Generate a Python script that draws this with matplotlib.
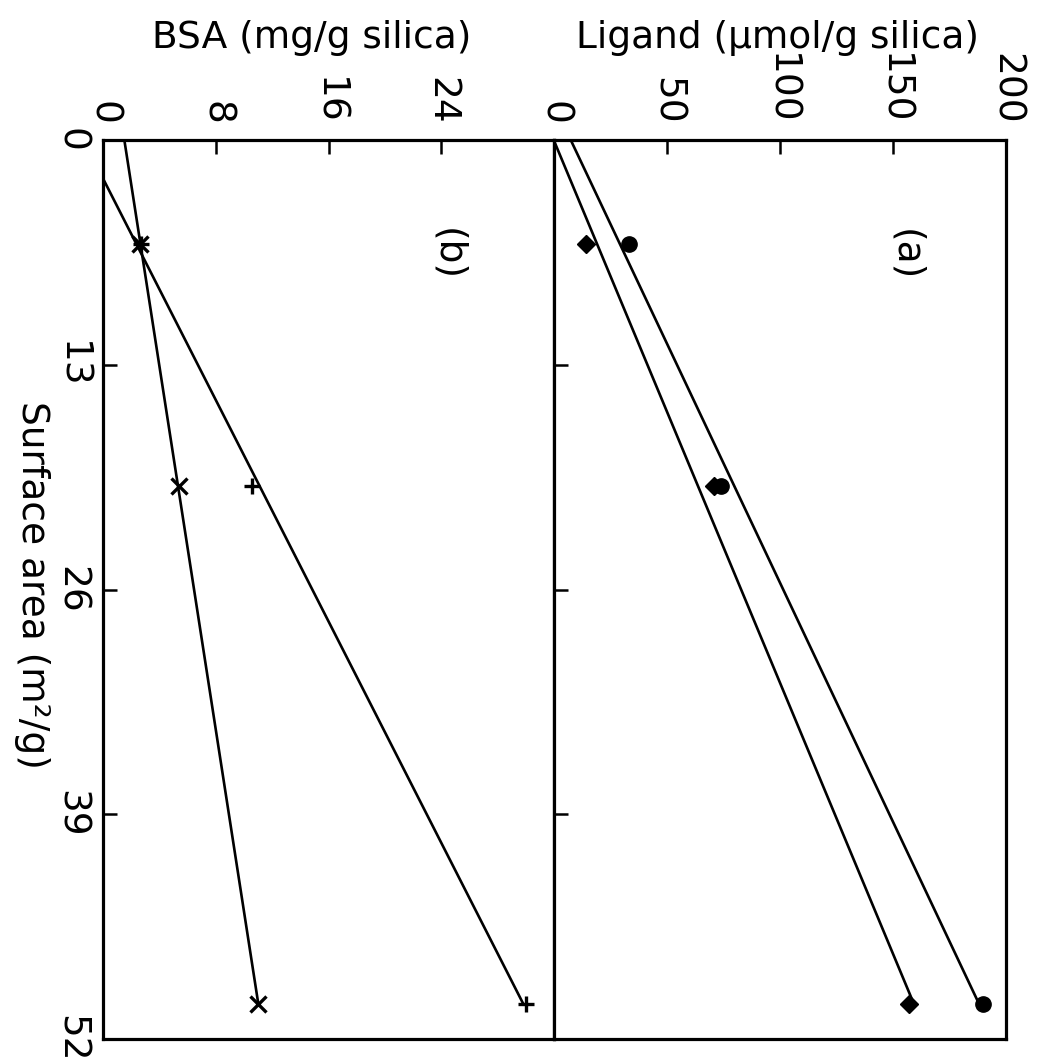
import numpy as np
import matplotlib
matplotlib.use("Agg")
import matplotlib.pyplot as plt

# Surface area of the silica samples (m^2/g)
surface_area = [6, 20, 50]

# (a) ligand loading (umol/g silica)
ligand_circle = [33, 74, 190]
ligand_diamond = [14, 71, 157]

# (b) BSA adsorbed (mg/g silica)
bsa_cross = [2.6, 5.4, 11.0]
bsa_plus = [2.7, 10.6, 30.0]

surface_ticks = [0, 13, 26, 39, 52]
ligand_ticks = [0, 50, 100, 150, 200]
bsa_ticks = [0, 8, 16, 24]

W, H = 1038, 1064
FS = 27
plt.rcParams["font.family"] = ["DejaVu Sans"]

fig = plt.figure(figsize=(W / 100, H / 100), dpi=100)

x_left, x_mid, x_right = 103, 554, 1006
y_top, y_bottom = 140, 1039


def rect(x0, x1):
    return [x0 / W, 1 - y_bottom / H, (x1 - x0) / W, (y_bottom - y_top) / H]


ax_b = fig.add_axes(rect(x_left, x_mid))
ax_a = fig.add_axes(rect(x_mid, x_right))

for ax in (ax_b, ax_a):
    ax.set_ylim(52, 0)
    for sp in ax.spines.values():
        sp.set_linewidth(2.3)
    ax.set_yticks(surface_ticks)
    ax.tick_params(axis="x", direction="in", length=10, width=1.8,
                   top=True, bottom=False, labeltop=True, labelbottom=False,
                   pad=11, labelsize=FS, labelrotation=-90)
    ax.tick_params(axis="y", direction="in", length=10, width=1.8,
                   left=True, right=False, pad=10, labelsize=FS,
                   labelrotation=-90)

ax_b.set_xlim(0, 32)
ax_b.set_xticks(bsa_ticks)
ax_b.tick_params(axis="y", labelleft=True)
plt.setp(ax_b.get_yticklabels(), va="center")

ax_a.set_xlim(0, 200)
ax_a.set_xticks(ligand_ticks)
ax_a.tick_params(axis="y", labelleft=False)

s = np.array(surface_area, dtype=float)
s_line = np.array([0.0, s.max()])


def fit_line(ax, values):
    k, b = np.polyfit(s, np.asarray(values, dtype=float), 1)
    ax.plot(k * s_line + b, s_line, color="black", lw=1.9, zorder=2)


# (a) ligand vs surface area
fit_line(ax_a, ligand_circle)
fit_line(ax_a, ligand_diamond)
ax_a.plot(ligand_circle, surface_area, "o", color="black", ms=11, zorder=3)
ax_a.plot(ligand_diamond, surface_area, "D", color="black", ms=9, zorder=3)

# (b) BSA vs surface area
fit_line(ax_b, bsa_cross)
fit_line(ax_b, bsa_plus)
ax_b.plot(bsa_cross, surface_area, "x", color="black", ms=11, mew=2.4,
          zorder=3)
ax_b.plot(bsa_plus, surface_area, "+", color="black", ms=12, mew=2.4,
          zorder=3)

fig.text(905 / W, 1 - 255 / H, "(a)", rotation=-90, ha="center",
         va="center", fontsize=FS)
fig.text(447 / W, 1 - 255 / H, "(b)", rotation=-90, ha="center",
         va="center", fontsize=FS)

fig.text(312 / W, 1 - 38 / H, "BSA (mg/g silica)", ha="center",
         va="center", fontsize=FS)
fig.text(778 / W, 1 - 38 / H, "Ligand (µmol/g silica)", ha="center",
         va="center", fontsize=FS)
fig.text(32 / W, 1 - 585 / H, "Surface area (m²/g)", rotation=-90,
         ha="center", va="center", fontsize=FS)

fig.savefig("out.png", dpi=100)
